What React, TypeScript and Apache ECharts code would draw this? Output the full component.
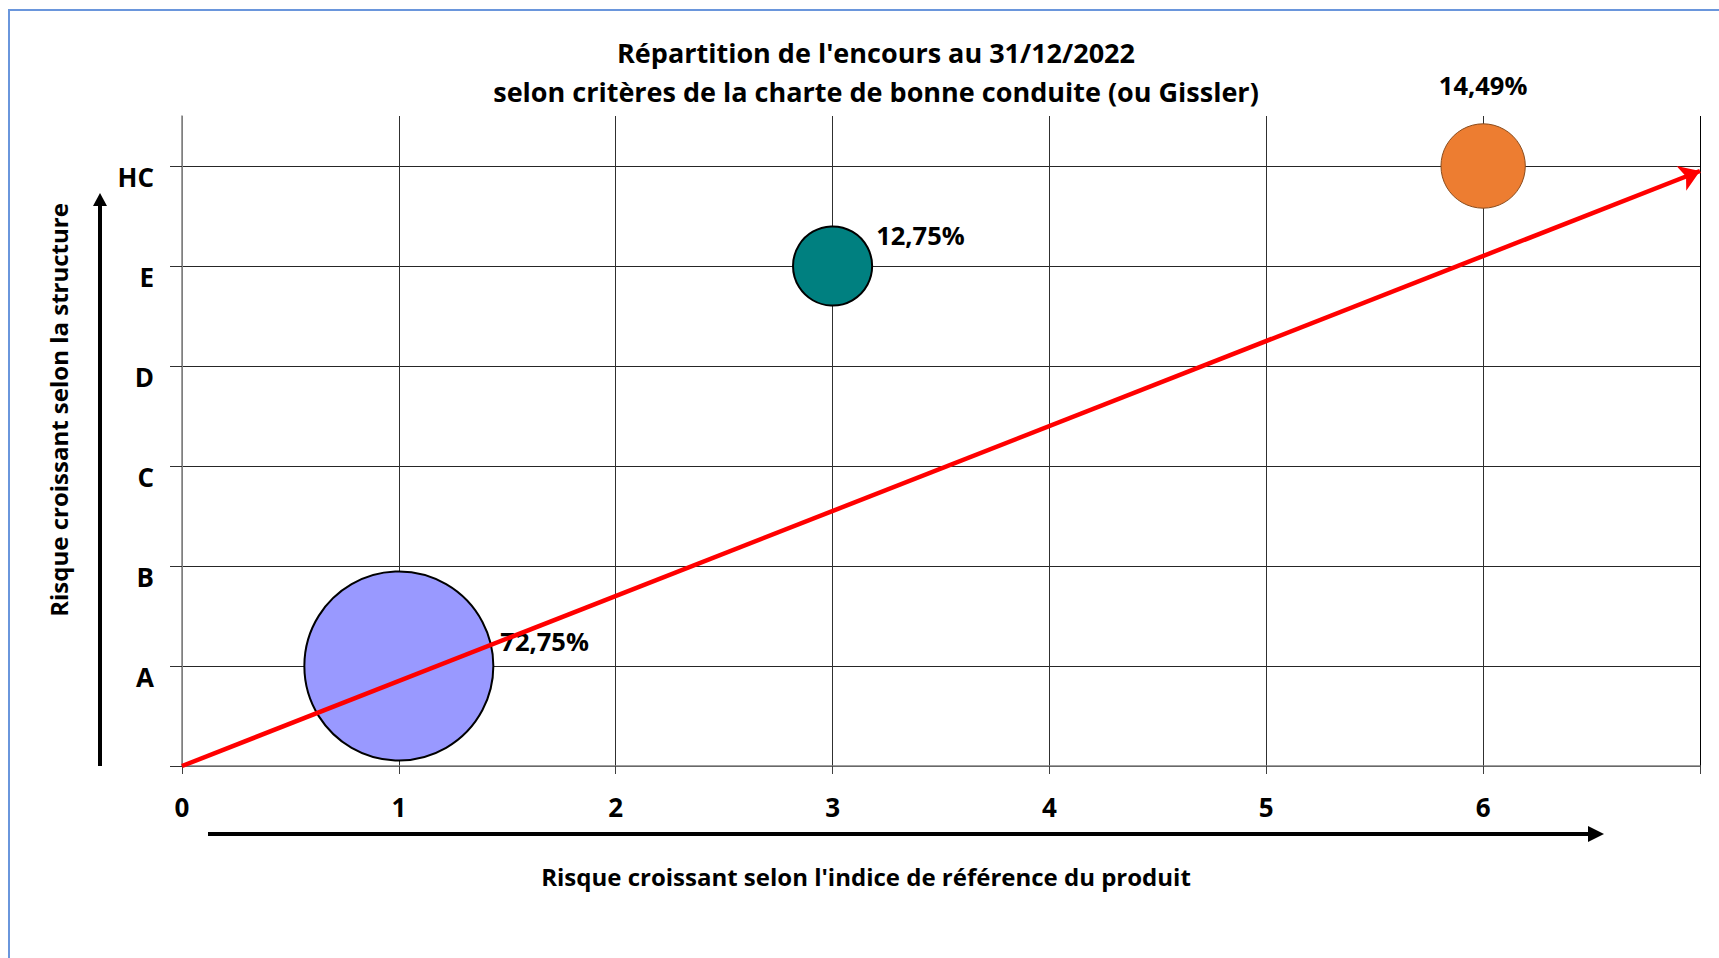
import React, { useEffect, useRef } from 'react';
import * as echarts from 'echarts';

const xLabelValues = [0, 1, 2, 3, 4, 5, 6];
const yTickValues = [0, 1, 2, 3, 4, 5, 6];
const yLevelValues = [1, 2, 3, 4, 5, 6];
const yLevelLabels = ['A', 'B', 'C', 'D', 'E', 'HC'];
const bubbleX = [1, 3, 6];
const bubbleY = [1, 5, 6];
const bubbleShares = [72.75, 12.75, 14.49];
const bubbleColors = ['#9999FF', '#008080', '#ED7D31'];
const bubbleBorders = ['#000000', '#000000', '#8A4B1C'];
const trendFrom = [0, 0];
const trendTo = [7, 5.95];
const titleLines = [
  "Répartition de l'encours au 31/12/2022",
  'selon critères de la charte de bonne conduite (ou Gissler)',
];
const xName = "Risque croissant selon l'indice de référence du produit";
const yName = 'Risque croissant selon la structure';

const FONT = '"Open Sans", "Noto Sans", sans-serif';

const fmtShare = (v: number) => v.toFixed(2).replace('.', ',') + '%';

export default function App() {
  const ref = useRef<HTMLDivElement>(null);
  useEffect(() => {
    if (!ref.current) return;
    const chart = echarts.init(ref.current, undefined, { renderer: 'svg' });
    const maxShare = Math.max(...bubbleShares);
    const labelCfg = [
      { position: 'right', distance: 6, offset: [0, -25] },
      { position: 'right', distance: 3, offset: [0, -31] },
      { position: 'top', distance: 25, offset: [0, 0] },
    ];
    const bubbleData = bubbleX.map((x, i) => ({
      value: [x, bubbleY[i], bubbleShares[i]],
      symbolSize: 189 * Math.sqrt(bubbleShares[i] / maxShare),
      itemStyle: {
        color: bubbleColors[i],
        borderColor: bubbleBorders[i],
        borderWidth: i === 2 ? 1 : 2,
        opacity: 1,
      },
      label: {
        show: true,
        position: labelCfg[i].position,
        distance: labelCfg[i].distance,
        offset: labelCfg[i].offset,
        formatter: () => fmtShare(bubbleShares[i]),
        fontFamily: FONT,
        fontWeight: 'bold',
        fontSize: 25.5,
        color: '#000',
      },
    }));

    const option: any = {
      animation: false,
      backgroundColor: '#ffffff',
      grid: { left: 182, right: 19, top: 116, bottom: 192, containLabel: false },
      xAxis: {
        type: 'value',
        min: 0,
        max: 7,
        interval: 1,
        axisLine: { show: true, lineStyle: { color: '#7f7f7f', width: 1.5 } },
        axisTick: { show: true, length: 8, lineStyle: { color: '#404040' } },
        axisLabel: {
          customValues: xLabelValues,
          margin: 28,
          fontFamily: FONT,
          fontWeight: 'bold',
          fontSize: 26,
          color: '#000',
        },
        splitLine: {
          show: true,
          lineStyle: {
            color: ['#7f7f7f', '#303030', '#303030', '#303030', '#303030', '#303030', '#303030', '#000000'],
            width: 1,
          },
        },
      },
      yAxis: {
        type: 'value',
        min: 0,
        max: 6.5,
        interval: 1,
        axisLine: { show: true, lineStyle: { color: '#7f7f7f', width: 1.5 } },
        axisTick: { show: true, length: 12, customValues: yTickValues, lineStyle: { color: '#303030' } },
        axisLabel: {
          customValues: yLevelValues,
          formatter: (v: number) => yLevelLabels[yLevelValues.indexOf(v)] ?? '',
          margin: 28,
          verticalAlign: 'top',
          lineHeight: 22,
          fontFamily: FONT,
          fontWeight: 'bold',
          fontSize: 26,
          color: '#000',
        },
        splitLine: { show: true, lineStyle: { color: '#262626', width: 1 } },
      },
      series: [
        {
          type: 'scatter',
          data: bubbleData,
          z: 2,
          clip: false,
        },
        {
          type: 'lines',
          coordinateSystem: 'cartesian2d',
          clip: false,
          z: 3,
          symbol: ['none', 'arrow'],
          symbolSize: 20,
          lineStyle: { color: '#FF0000', width: 4.5, opacity: 1 },
          data: [{ coords: [trendFrom, trendTo] }],
        },
      ],
      graphic: [
        {
          type: 'rect',
          silent: true,
          z: -10,
          shape: { x: 9, y: 10, width: 1800, height: 1000 },
          style: { fill: 'none', stroke: '#6A96DC', lineWidth: 2 },
        },
        {
          type: 'text',
          x: 876,
          y: 52,
          style: {
            text: titleLines[0],
            textAlign: 'center',
            textVerticalAlign: 'middle',
            font: `bold 27px ${FONT}`,
            fill: '#000',
          },
        },
        {
          type: 'text',
          x: 876,
          y: 91,
          style: {
            text: titleLines[1],
            textAlign: 'center',
            textVerticalAlign: 'middle',
            font: `bold 27px ${FONT}`,
            fill: '#000',
          },
        },
        {
          type: 'text',
          x: 866,
          y: 876,
          style: {
            text: xName,
            textAlign: 'center',
            textVerticalAlign: 'middle',
            font: `bold 24px ${FONT}`,
            fill: '#000',
          },
        },
        {
          type: 'text',
          x: 58,
          y: 410,
          rotation: Math.PI / 2,
          style: {
            text: yName,
            textAlign: 'center',
            textVerticalAlign: 'middle',
            font: `bold 24px ${FONT}`,
            fill: '#000',
          },
        },
        {
          type: 'line',
          shape: { x1: 100, y1: 766, x2: 100, y2: 204 },
          style: { stroke: '#000', lineWidth: 4 },
        },
        {
          type: 'polygon',
          shape: { points: [[93, 206], [107, 206], [100, 193]] },
          style: { fill: '#000' },
        },
        {
          type: 'line',
          shape: { x1: 208, y1: 834, x2: 1590, y2: 834 },
          style: { stroke: '#000', lineWidth: 4 },
        },
        {
          type: 'polygon',
          shape: { points: [[1588, 826], [1588, 842], [1604, 834]] },
          style: { fill: '#000' },
        },
      ],
    };
    chart.setOption(option);
    return () => chart.dispose();
  }, []);
  return (
    <div
      ref={ref}
      style={{ position: 'fixed', left: 0, top: 0, width: 1719, height: 958, background: '#fff' }}
    />
  );
}
